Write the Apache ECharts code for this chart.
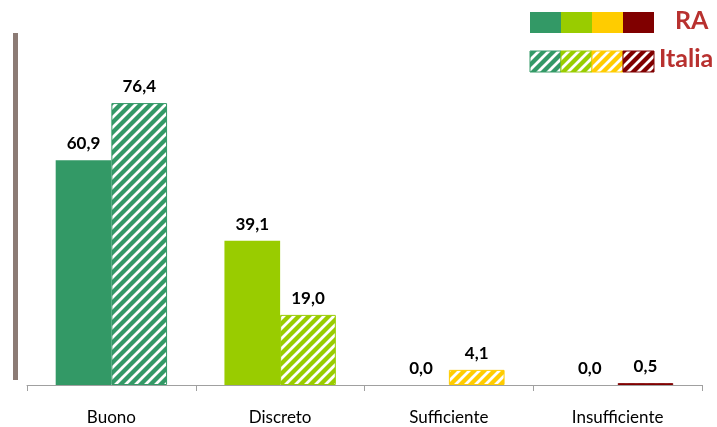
<!DOCTYPE html>
<html>
<head>
<meta charset="utf-8">
<script src="https://cdn.jsdelivr.net/npm/echarts@6/dist/echarts.min.js"></script>
<style>
  html, body { margin: 0; padding: 0; background: #fff; }
  #chart { width: 717px; height: 427px; }
</style>
</head>
<body>
<div id="chart"></div>
<script>
// values
const categories = ['Buono', 'Discreto', 'Sufficiente', 'Insufficiente']
const raValues = [60.9, 39.1, 0.0, 0.0]
const italiaValues = [76.4, 19.0, 4.1, 0.5]
const colors = ['#339966', '#99cc00', '#ffcc00', '#800000']

// diagonal white stripes, same as the hatched Italia bars
function hatch(color) {
  const c = document.createElement('canvas')
  c.width = c.height = 10
  const g = c.getContext('2d')
  g.fillStyle = color
  g.fillRect(0, 0, 10, 10)
  g.strokeStyle = '#fff'
  g.lineWidth = 2.8
  g.beginPath()
  g.moveTo(-5, 5); g.lineTo(5, -5)
  g.moveTo(0, 10); g.lineTo(10, 0)
  g.moveTo(5, 15); g.lineTo(15, 5)
  g.stroke()
  return c
}

const fmt = p => p.value.toFixed(1).replace('.', ',')
const label = {
  show: true,
  position: 'top',
  distance: 8,
  formatter: fmt,
  color: '#000',
  fontWeight: 'bold',
  fontSize: 17,
  fontFamily: 'Lato'
}

const chart = echarts.init(document.getElementById('chart'))

// legend: four swatches per row, built from colors
const legendItems = []
colors.forEach((c, i) => {
  legendItems.push({ type: 'rect', shape: { x: 530 + i * 31, y: 12, width: 31, height: 21 }, style: { fill: c } })
  legendItems.push({ type: 'rect', shape: { x: 530 + i * 31, y: 51, width: 31, height: 21 }, style: { fill: { image: hatch(c), repeat: 'repeat' }, stroke: c, lineWidth: 1 } })
})
legendItems.push({ type: 'text', x: 675, y: 8, style: { text: 'RA', fill: '#b8312f', font: 'bold 25px Lato' } })
legendItems.push({ type: 'text', x: 659, y: 46, style: { text: 'Italia', fill: '#b8312f', font: 'bold 25px Lato' } })
// brown rule on the left
legendItems.push({ type: 'rect', shape: { x: 13, y: 33, width: 5, height: 347 }, style: { fill: '#8c7b75' } })

chart.setOption({
  animation: false,
  grid: { left: 27, right: 15, top: 16, bottom: 42 },
  xAxis: {
    type: 'category',
    data: categories,
    axisLine: { lineStyle: { color: '#a0a0a0' } },
    axisTick: { show: true, length: 6, lineStyle: { color: '#a0a0a0' } },
    axisLabel: { color: '#000', fontSize: 17, fontFamily: 'Lato', margin: 24 }
  },
  yAxis: {
    type: 'value',
    min: 0,
    max: 100,
    show: false,
    splitLine: { show: false }
  },
  series: [
    {
      name: 'RA',
      type: 'bar',
      barGap: '0%',
      barCategoryGap: '34%',
      label: label,
      data: raValues.map((v, i) => ({ value: v, itemStyle: { color: colors[i] } }))
    },
    {
      name: 'Italia',
      type: 'bar',
      label: label,
      data: italiaValues.map((v, i) => ({
        value: v,
        itemStyle: { color: { image: hatch(colors[i]), repeat: 'repeat' }, borderColor: colors[i], borderWidth: 1 }
      }))
    }
  ],
  graphic: legendItems
})
</script>
</body>
</html>
